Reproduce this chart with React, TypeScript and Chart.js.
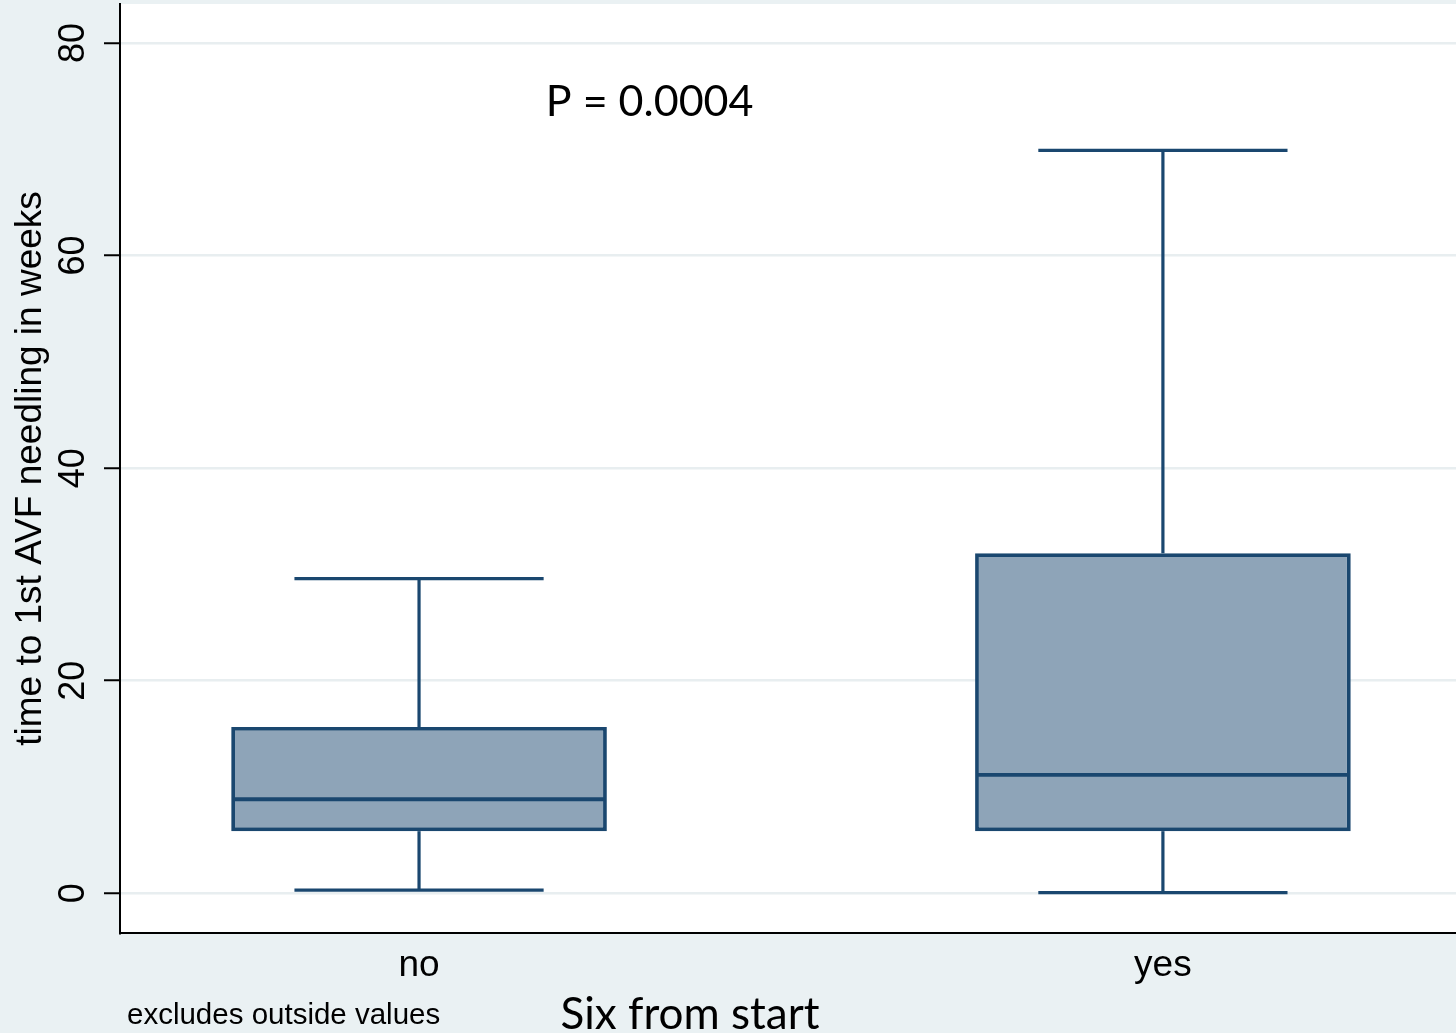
import React, { useEffect, useRef } from "react";
import { Chart, registerables } from "chart.js";

Chart.register(...registerables);

// ---- data ----
const categories = ["no", "yes"];
const categoryPositions = [1, 2];
const lowerWhisker = [0.3, 0.06];
const q1Values = [5.85, 5.85];
const medianValues = [8.85, 11.15];
const q3Values = [15.65, 32.0];
const upperWhisker = [29.6, 69.9];
const yTickValues = [0, 20, 40, 60, 80];
const yTickLabels = ["0", "20", "40", "60", "80"];
const pValueText = "P = 0.0004";
const yTitleText = "time to 1st AVF needling in weeks";
const xTitleText = "Six from start";
const noteText = "excludes outside values";

// ---- styles ----
const OUTER_BG = "#eaf1f3";
const GRID_COLOR = "#e8eef0";
const BOX_FILL = "#8ea4b8";
const BOX_LINE = "#1a476f";
const ARIAL = "'Liberation Sans', Arial, sans-serif";
const CALIBRI = "Lato, 'Open Sans', sans-serif";
const BOX_HALF = 0.2525;
const CAP_HALF = 0.1675;

const backgroundPlugin = {
  id: "bgPlugin",
  beforeDraw(chart: any) {
    const { ctx, chartArea, width, height } = chart;
    ctx.save();
    ctx.fillStyle = OUTER_BG;
    ctx.fillRect(0, 0, width, height);
    ctx.fillStyle = "#ffffff";
    ctx.fillRect(chartArea.left, chartArea.top, chartArea.right - chartArea.left, chartArea.bottom - chartArea.top);
    ctx.restore();
  },
};

const whiskerPlugin = {
  id: "whiskerPlugin",
  afterDatasetsDraw(chart: any) {
    const { ctx } = chart;
    const xs = chart.scales.x;
    const ys = chart.scales.y;
    const line = (x1: number, y1: number, x2: number, y2: number) => {
      ctx.beginPath();
      ctx.moveTo(x1, y1);
      ctx.lineTo(x2, y2);
      ctx.stroke();
    };
    ctx.save();
    ctx.strokeStyle = BOX_LINE;
    ctx.lineCap = "butt";
    categoryPositions.forEach((pos, i) => {
      const cx = xs.getPixelForValue(pos);
      const capL = xs.getPixelForValue(pos - CAP_HALF);
      const capR = xs.getPixelForValue(pos + CAP_HALF);
      const boxL = xs.getPixelForValue(pos - BOX_HALF);
      const boxR = xs.getPixelForValue(pos + BOX_HALF);
      const yLo = ys.getPixelForValue(lowerWhisker[i]);
      const yQ1 = ys.getPixelForValue(q1Values[i]);
      const yMed = ys.getPixelForValue(medianValues[i]);
      const yQ3 = ys.getPixelForValue(q3Values[i]);
      const yHi = ys.getPixelForValue(upperWhisker[i]);
      ctx.lineWidth = 3.2;
      line(cx, yQ3, cx, yHi);
      line(capL, yHi, capR, yHi);
      line(cx, yQ1, cx, yLo);
      line(capL, yLo, capR, yLo);
      ctx.lineWidth = 3.8;
      line(boxL + 2, yMed, boxR - 2, yMed);
    });
    ctx.restore();
  },
};

const textPlugin = {
  id: "textPlugin",
  afterDraw(chart: any) {
    const { ctx } = chart;
    const xs = chart.scales.x;
    const ys = chart.scales.y;
    ctx.save();
    ctx.fillStyle = "#000000";
    // y tick labels, rotated
    ctx.font = `36px ${ARIAL}`;
    ctx.textAlign = "center";
    ctx.textBaseline = "middle";
    yTickValues.forEach((v, i) => {
      const py = ys.getPixelForValue(v);
      ctx.save();
      ctx.translate(74, py);
      ctx.rotate(-Math.PI / 2);
      ctx.fillText(yTickLabels[i], 0, 0);
      ctx.restore();
    });
    // P value annotation
    ctx.font = `43px ${CALIBRI}`;
    ctx.textAlign = "center";
    ctx.textBaseline = "alphabetic";
    ctx.fillText(pValueText, xs.getPixelForValue(1.31), ys.getPixelForValue(73.15));
    // x title
    ctx.font = `44px ${CALIBRI}`;
    ctx.fillText(xTitleText, 690, 1029);
    // note
    ctx.font = `29.5px ${ARIAL}`;
    ctx.textAlign = "left";
    ctx.fillText(noteText, 127, 1024);
    ctx.restore();
  },
};

export default function App() {
  const canvasRef = useRef<HTMLCanvasElement | null>(null);

  useEffect(() => {
    const canvas = canvasRef.current;
    if (!canvas) return;
    const chart = new Chart(canvas, {
      type: "bar",
      data: {
        datasets: [
          {
            label: "box",
            data: categoryPositions.map((p, i) => ({ x: p, y: [q1Values[i], q3Values[i]] })) as any,
            backgroundColor: BOX_FILL,
            borderColor: BOX_LINE,
            borderWidth: 3.8,
            borderSkipped: false,
            categoryPercentage: 1,
            barPercentage: BOX_HALF * 2,
          },
        ],
      },
      options: {
        responsive: false,
        animation: false,
        devicePixelRatio: 1,
        layout: { padding: { top: 4, right: 0, bottom: 0, left: 0 } },
        plugins: {
          legend: { display: false },
          tooltip: { enabled: false },
          title: { display: false },
        },
        scales: {
          x: {
            type: "linear",
            min: 0.598,
            max: 2.394,
            offset: false,
            afterBuildTicks: (scale: any) => {
              scale.ticks = categoryPositions.map((v) => ({ value: v }));
            },
            afterFit: (scale: any) => {
              scale.height = 100;
            },
            grid: { display: false, drawTicks: false, offset: false },
            border: { display: true, color: "#000000", width: 2 },
            ticks: {
              autoSkip: false,
              maxRotation: 0,
              minRotation: 0,
              padding: 11,
              color: "#000000",
              font: { family: ARIAL, size: 37, lineHeight: 1.2 },
              callback: (_v: any, index: number) => categories[index],
            },
          },
          y: {
            type: "linear",
            min: -3.73,
            max: 83.66,
            afterBuildTicks: (scale: any) => {
              scale.ticks = yTickValues.map((v) => ({ value: v }));
            },
            afterFit: (scale: any) => {
              scale.width = 120;
            },
            grid: {
              color: GRID_COLOR,
              lineWidth: 2.5,
              drawTicks: true,
              tickLength: 16,
              tickColor: "#000000",
              tickWidth: 2,
            },
            border: { display: true, color: "#000000", width: 2 },
            ticks: { display: false },
            title: {
              display: true,
              text: yTitleText,
              color: "#000000",
              font: { family: ARIAL, size: 37, lineHeight: 1 },
              padding: { top: 12, bottom: 0 },
            },
          },
        },
      },
      plugins: [backgroundPlugin, whiskerPlugin, textPlugin],
    });
    return () => chart.destroy();
  }, []);

  return (
    <div style={{ position: "absolute", left: 0, top: 0, width: 1456, height: 1033 }}>
      <canvas ref={canvasRef} width={1456} height={1033} style={{ display: "block" }} />
    </div>
  );
}
